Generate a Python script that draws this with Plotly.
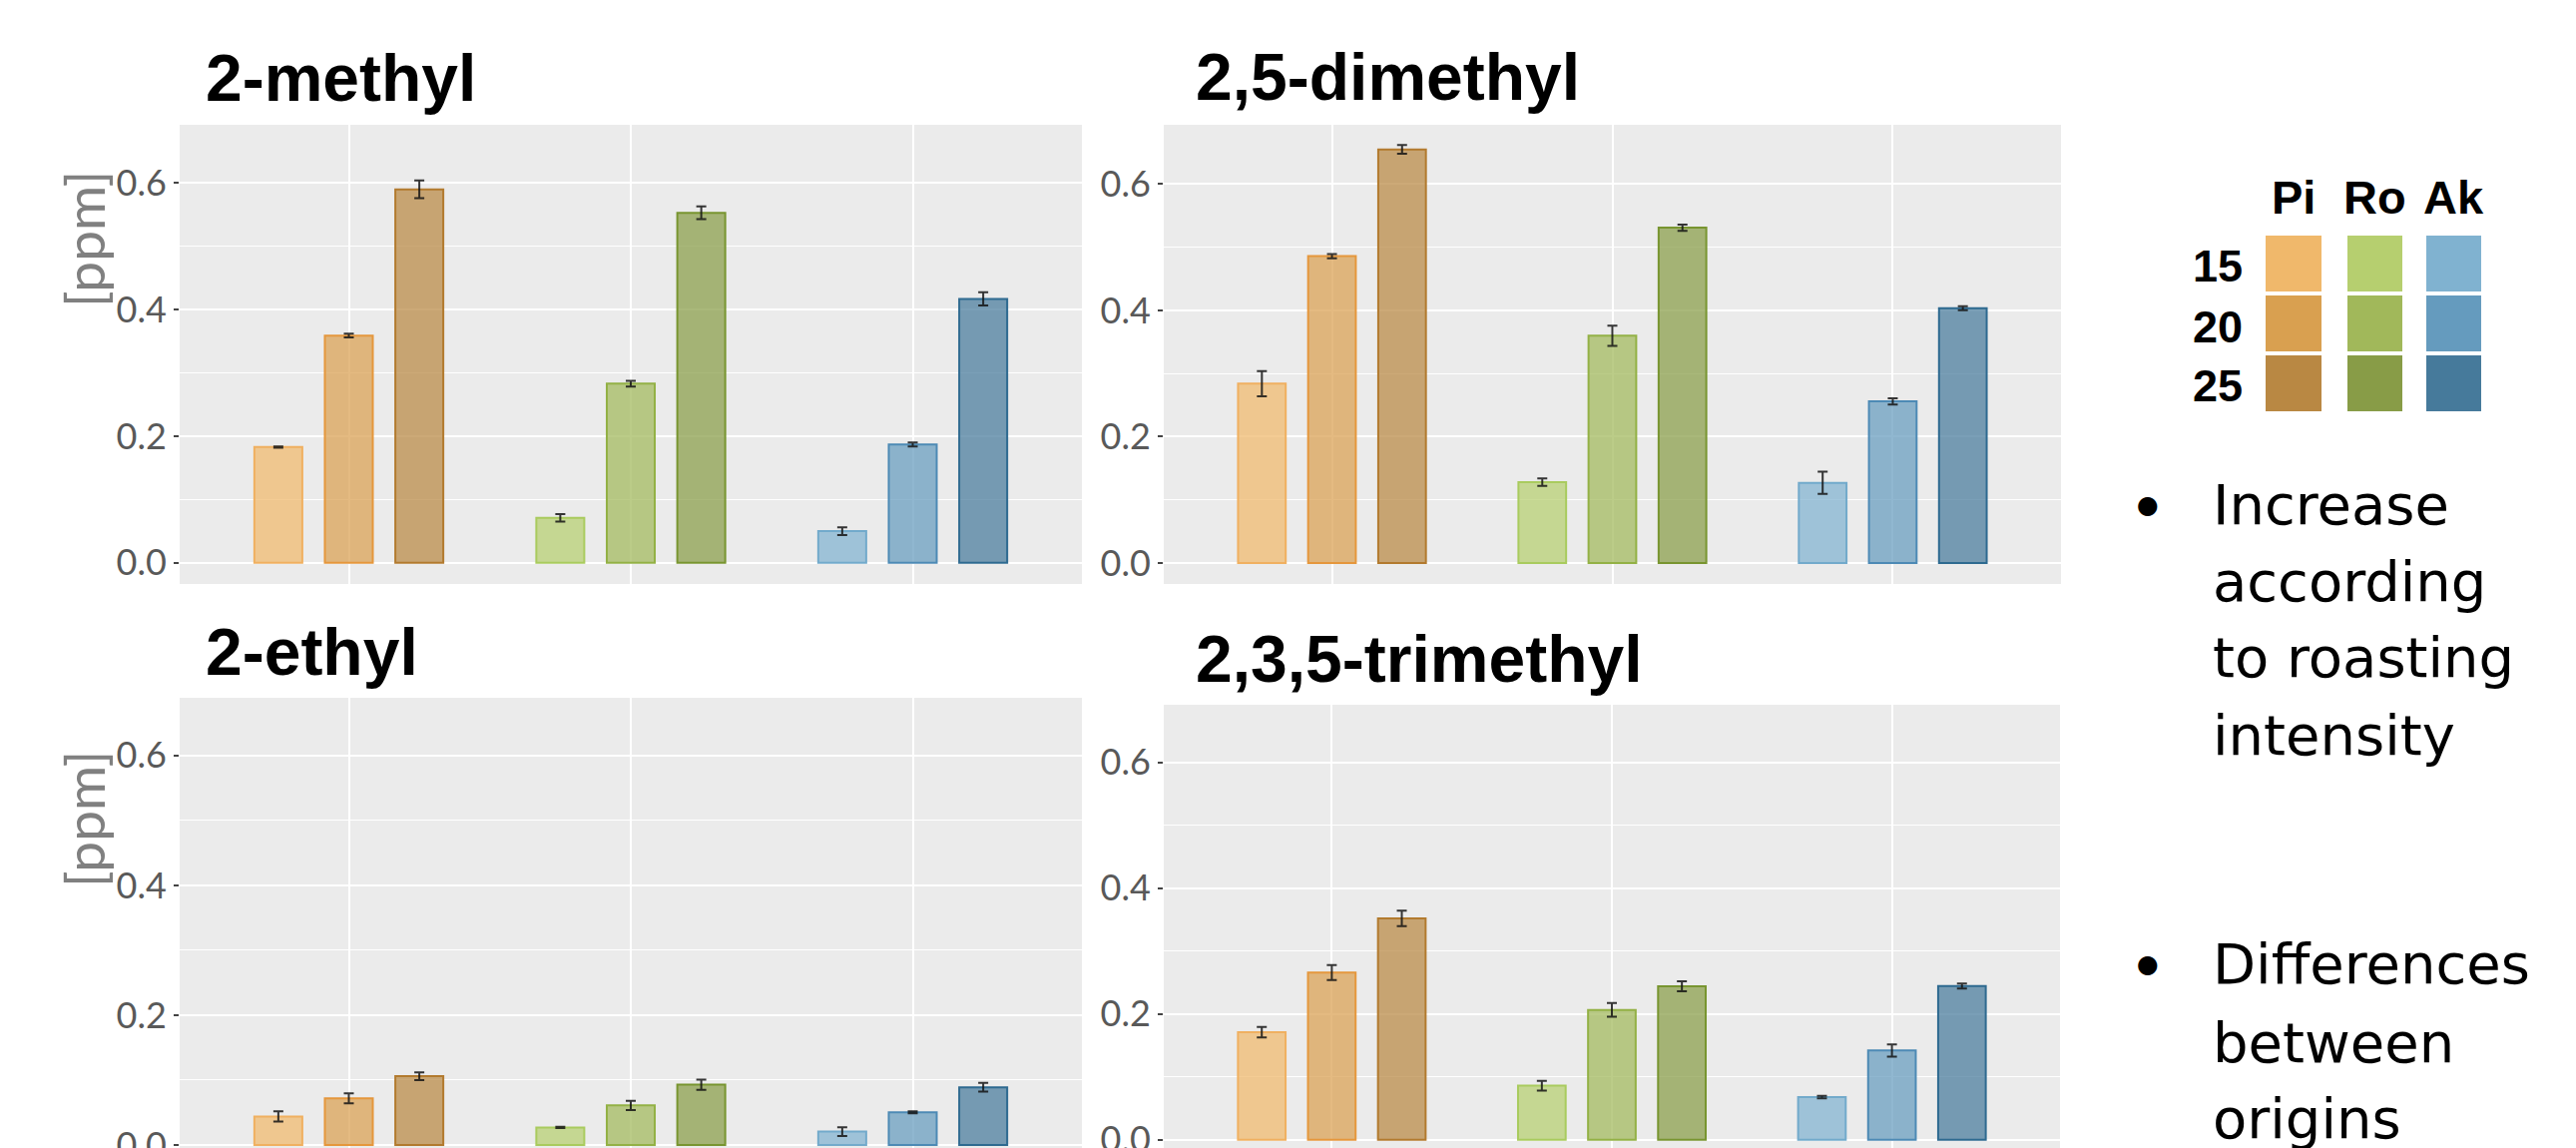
import plotly.graph_objects as go

W, H = 2581, 1150

origins = ["Pi", "Ro", "Ak"]
levels = ["15", "20", "25"]
compounds = ["2-methyl", "2,5-dimethyl", "2-ethyl", "2,3,5-trimethyl"]

# values per compound: rows = roast level (15, 20, 25), columns = origin (Pi, Ro, Ak)
methyl_mean = [[0.183, 0.071, 0.050], [0.359, 0.283, 0.187], [0.590, 0.553, 0.417]]
methyl_err = [[0.001, 0.006, 0.006], [0.003, 0.0045, 0.003], [0.014, 0.010, 0.0105]]
dimethyl_mean = [[0.284, 0.128, 0.127], [0.486, 0.360, 0.256], [0.655, 0.531, 0.4035]]
dimethyl_err = [[0.020, 0.006, 0.0175], [0.0033, 0.016, 0.005], [0.007, 0.005, 0.003]]
ethyl_mean = [[0.044, 0.027, 0.0206], [0.072, 0.061, 0.0505], [0.106, 0.093, 0.089]]
ethyl_err = [[0.0079, 0.001, 0.0068], [0.0076, 0.007, 0.0015], [0.006, 0.0079, 0.0068]]
trimethyl_mean = [[0.171, 0.086, 0.068], [0.266, 0.2065, 0.142], [0.352, 0.244, 0.2445]]
trimethyl_err = [[0.0084, 0.0078, 0.002], [0.012, 0.011, 0.0098], [0.0123, 0.008, 0.004]]

means = [methyl_mean, dimethyl_mean, ethyl_mean, trimethyl_mean]
errs = [methyl_err, dimethyl_err, ethyl_err, trimethyl_err]

y_ticks = [0.0, 0.2, 0.4, 0.6]
y_tick_text = ["0.0", "0.2", "0.4", "0.6"]
y_minor = [0.1, 0.3, 0.5]
y_label = "[ppm]"

# legend/base colours: rows = level, columns = origin
base_colors = [["#F0B86B", "#B6CF6F", "#80B2D0"],
               ["#D9A050", "#A1B85A", "#659BBE"],
               ["#B98843", "#889C47", "#467A9B"]]
line_colors = [["#F0B060", "#A9CB5E", "#72AACB"],
               ["#E5973C", "#93B145", "#4D8AB5"],
               ["#B27A2E", "#789530", "#2E6A90"]]

bullets = [["Increase", "according", "to roasting", "intensity"],
           ["Differences", "between", "origins"]]


def rgba(h, a):
    h = h.lstrip("#")
    return "rgba(%d,%d,%d,%.2f)" % (int(h[0:2], 16), int(h[2:4], 16), int(h[4:6], 16), a)


def px_x(p):
    return p / W


def px_y(p):
    return 1 - p / H


# panel geometry in pixels: (x0, x1, ytop, ybottom, yrange)
panels = [
    (180, 1084, 125, 585, [-0.0334, 0.692]),
    (1166, 2065, 125, 585, [-0.0332, 0.694]),
    (180, 1084, 699, 1150, [-0.0046, 0.689]),
    (1166, 2064, 706, 1150, [-0.013, 0.6916]),
]
title_pos = [(204, 78), (1196, 77), (204, 653), (1196, 660)]

fig = go.Figure()
layout = {}
for i, (x0, x1, yt, yb, yr) in enumerate(panels):
    n = "" if i == 0 else str(i + 1)
    xa, ya = "x" + n, "y" + n
    for li in range(3):
        fig.add_trace(go.Bar(
            x=origins, y=means[i][li],
            xaxis=xa, yaxis=ya,
            marker=dict(color=[rgba(c, 0.72) for c in base_colors[li]],
                        line=dict(color=line_colors[li], width=2)),
            error_y=dict(type="data", array=errs[i][li], color="rgba(20,20,20,0.85)",
                         thickness=2, width=5),
            showlegend=False, name=levels[li],
        ))
    layout["xaxis" + n] = dict(
        domain=[px_x(x0), px_x(x1)], anchor=ya, type="category",
        range=[-0.6, 2.6], showticklabels=False, ticks="",
        showgrid=True, gridcolor="white", gridwidth=1.5, zeroline=False,
        showline=False, fixedrange=True, automargin=False,
    )
    layout["yaxis" + n] = dict(
        domain=[px_y(yb), px_y(yt)], anchor=xa, range=yr,
        tickvals=y_ticks, ticktext=y_tick_text,
        ticks="outside", ticklen=5, tickwidth=1.5, tickcolor="#444444",
        tickfont=dict(family="Lato", size=36, color="#595959"),
        ticklabeloverflow="allow",
        showgrid=True, gridcolor="white", gridwidth=2.2, zeroline=False,
        minor=dict(tickvals=y_minor, showgrid=True, gridcolor="white", gridwidth=1, ticks=""),
        showline=False, fixedrange=True, automargin=False,
    )

annotations = []
for i, t in enumerate(compounds):
    x, y = title_pos[i]
    annotations.append(dict(text="<b>%s</b>" % t, x=px_x(x), y=px_y(y), xref="paper", yref="paper",
                            xanchor="left", yanchor="middle", showarrow=False,
                            font=dict(family="Liberation Sans", size=66, color="black")))
for yc in (240, 821):
    annotations.append(dict(text=y_label, x=px_x(84), y=px_y(yc), xref="paper", yref="paper",
                            xanchor="center", yanchor="middle", textangle=-90, showarrow=False,
                            font=dict(family="Lato", size=55, color="#808080")))

# legend block
col_x = [(2270, 2326), (2352, 2407), (2431, 2486)]
row_y = [(236, 292), (296, 352), (356, 412)]
shapes = []
for li in range(3):
    for oi in range(3):
        x0, x1 = col_x[oi]
        y0, y1 = row_y[li]
        shapes.append(dict(type="rect", xref="paper", yref="paper",
                           x0=px_x(x0), x1=px_x(x1), y0=px_y(y1), y1=px_y(y0),
                           fillcolor=base_colors[li][oi], line=dict(width=0)))
for oi, o in enumerate(origins):
    cx = (col_x[oi][0] + col_x[oi][1]) / 2
    annotations.append(dict(text="<b>%s</b>" % o, x=px_x(cx), y=px_y(197), xref="paper", yref="paper",
                            xanchor="center", yanchor="middle", showarrow=False,
                            font=dict(family="Liberation Sans", size=47, color="black")))
for li, lv in enumerate(levels):
    cy = (row_y[li][0] + row_y[li][1]) / 2 + 3
    annotations.append(dict(text="<b>%s</b>" % lv, x=px_x(2249), y=px_y(cy), xref="paper", yref="paper",
                            xanchor="right", yanchor="middle", showarrow=False,
                            font=dict(family="Liberation Sans", size=45, color="black")))

# bullet text
line_mid = [[505, 582, 658, 736], [965, 1044, 1120]]
bullet_y = [506, 965]
for bi, lines in enumerate(bullets):
    annotations.append(dict(text="●", x=px_x(2152), y=px_y(bullet_y[bi]), xref="paper", yref="paper",
                            xanchor="center", yanchor="middle", showarrow=False,
                            font=dict(family="DejaVu Sans", size=25, color="black")))
    for li, txt in enumerate(lines):
        annotations.append(dict(text=txt, x=px_x(2215), y=px_y(line_mid[bi][li]), xref="paper", yref="paper",
                                xanchor="left", yanchor="middle", showarrow=False,
                                font=dict(family="DejaVu Sans", size=56, color="black")))

fig.update_layout(
    width=W, height=H, margin=dict(l=0, r=0, t=0, b=0, autoexpand=False),
    paper_bgcolor="white", plot_bgcolor="#EBEBEB",
    barmode="group", bargap=0.25, bargroupgap=0.32,
    showlegend=False, annotations=annotations, shapes=shapes,
    **layout,
)

fig.write_html("out.html", config={"displayModeBar": False},
               post_script="document.body.style.margin='0';document.body.style.overflow='hidden';")
